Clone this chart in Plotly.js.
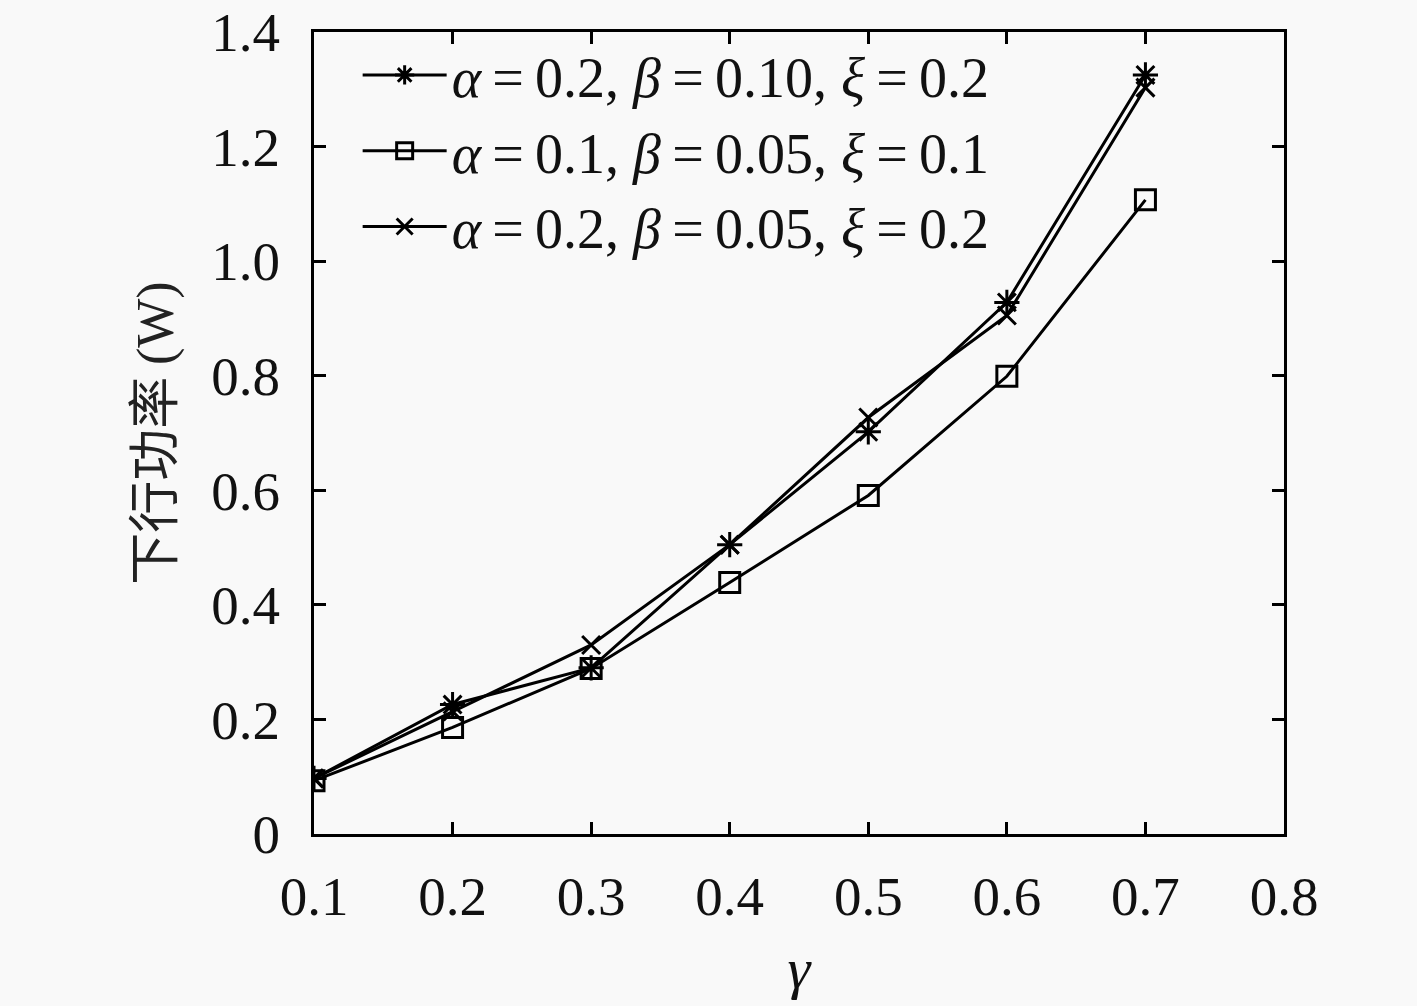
<!DOCTYPE html>
<html>
<head>
<meta charset="utf-8">
<script src="https://cdn.plot.ly/plotly-3.0.1.min.js"></script>
<style>
	body { margin: 0; background: #f9f9f9; }
	#chart { width: 1417px; height: 1006px; }
</style>
</head>
<body>
<div id="chart"></div>
<script>
// gamma values on the x axis
const gamma = [0.1, 0.2, 0.3, 0.4, 0.5, 0.6, 0.7];

// downlink power (W)
const powerA02B010 = [0.097, 0.226, 0.290, 0.505, 0.702, 0.928, 1.325];
const powerA01B005 = [0.093, 0.186, 0.289, 0.439, 0.591, 0.799, 1.107];
const powerA02B005 = [0.097, 0.214, 0.330, 0.505, 0.727, 0.905, 1.303];

// thin spaces around "=" to mimic math spacing
const eq = "\u2009=\u2009";
const seriesNames = [
	"<i>α</i>" + eq + "0.2, <i>β</i>" + eq + "0.10, <i>ξ</i>" + eq + "0.2",
	"<i>α</i>" + eq + "0.1, <i>β</i>" + eq + "0.05, <i>ξ</i>" + eq + "0.1",
	"<i>α</i>" + eq + "0.2, <i>β</i>" + eq + "0.05, <i>ξ</i>" + eq + "0.2"
];

const xTicks = [0.1, 0.2, 0.3, 0.4, 0.5, 0.6, 0.7, 0.8];
const xTickText = ["0.1", "0.2", "0.3", "0.4", "0.5", "0.6", "0.7", "0.8"];
const yTicks = [0, 0.2, 0.4, 0.6, 0.8, 1.0, 1.2, 1.4];
const yTickText = ["0", "0.2", "0.4", "0.6", "0.8", "1.0", "1.2", "1.4"];

const serif = "'Liberation Serif', 'DejaVu Serif', serif";

function makeTrace(y, name, symbol, size) {
	return {
		type: 'scatter',
		mode: 'lines+markers',
		x: gamma,
		y: y,
		name: name,
		line: { color: '#000', width: 3 },
		marker: {
			symbol: symbol,
			size: size,
			color: '#000',
			line: { color: '#000', width: 3 }
		}
	};
}

const data = [
	makeTrace(powerA02B010, seriesNames[0], 'asterisk-open', 21),
	makeTrace(powerA01B005, seriesNames[1], 'square-open', 20),
	makeTrace(powerA02B005, seriesNames[2], 'x-thin-open', 18)
];

const axisCommon = {
	showgrid: false,
	zeroline: false,
	showline: true,
	linecolor: '#000',
	linewidth: 3,
	mirror: 'ticks',
	ticks: 'inside',
	ticklen: 12,
	tickwidth: 3,
	tickcolor: '#000',
	ticklabeloverflow: 'allow',
	tickfont: { family: serif, size: 55, color: '#111' }
};

const layout = {
	width: 1417,
	height: 1006,
	paper_bgcolor: '#f9f9f9',
	plot_bgcolor: '#f9f9f9',
	margin: { l: 314, r: 133, t: 32, b: 172 },
	showlegend: true,
	legend: {
		x: 0.045,
		y: 1.0,
		xanchor: 'left',
		yanchor: 'top',
		bgcolor: 'rgba(0,0,0,0)',
		borderwidth: 0,
		itemwidth: 84,
		tracegroupgap: 0,
		font: { family: serif, size: 56, color: '#111' }
	},
	xaxis: Object.assign({}, axisCommon, {
		range: [0.1, 0.8],
		tickvals: xTicks,
		ticktext: xTickText,
		ticklabelstandoff: 12,
		title: {
			text: '<i>γ</i>',
			font: { family: serif, size: 58, color: '#111' },
			standoff: 22
		}
	}),
	yaxis: Object.assign({}, axisCommon, {
		range: [0, 1.4],
		tickvals: yTicks,
		ticktext: yTickText,
		ticklabelstandoff: 20,
		title: {
			text: '下行功率 <span style="font-family:Liberation Serif">(W)</span>',
			font: { family: "'Noto Sans CJK SC', " + serif, size: 52, color: '#222' },
			standoff: 22
		}
	})
};

Plotly.newPlot('chart', data, layout, { displayModeBar: false, staticPlot: true });
</script>
</body>
</html>
